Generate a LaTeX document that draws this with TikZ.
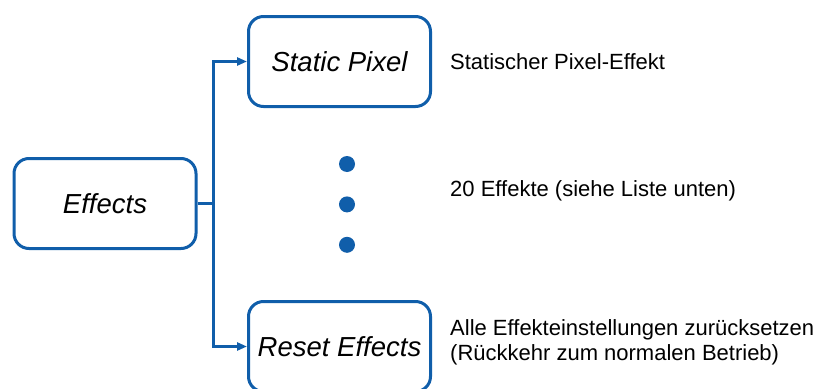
\documentclass[tikz,border=0pt]{standalone}
\usepackage{fontspec}
\setmainfont{Liberation Sans}
\usetikzlibrary{arrows.meta,positioning}
\definecolor{effblue}{RGB}{16,94,170}
\tikzset{
    block/.style = {draw=effblue, rectangle, rounded corners=15pt,
        line width=3pt,
        minimum height=90pt,
        minimum width=182pt,
        font=\fontsize{27.5}{31}\selectfont\itshape},
    note/.style = {anchor=west, align=left, inner sep=0pt,
        font=\fontsize{22}{25}\selectfont},
    dot/.style = {circle, fill=effblue, inner sep=0pt, minimum size=16pt},
    line/.style = {draw=effblue, line width=2.5pt},
}

\begin{document}
\begin{tikzpicture}[x=1pt,y=-1pt,>={Triangle[length=10pt,width=8pt]}]
		\useasboundingbox (0,0) rectangle (816,388);
		% Effects block
		\node [block] (effects) at (105,203.5) {Effects};
		% Static Pixel block
		\node [block] (static) at (339.5,61.5) {Static Pixel};
		% Reset Effects block
		\node [block] (reset) at (339.5,346.5) {Reset Effects};
		% branching point
		\coordinate [right=16pt of effects.east] (split);
		
		% dots in between
		\node [dot] (dot1) at (347,164) {};
		\node [dot, below=24pt of dot1] (dot2) {};
		\node [dot, below=24pt of dot2] (dot3) {};
		
		% descriptions
		\node [note] (statictext) at (450,62) {Statischer Pixel-Effekt};
		\node [note] (dotstext) at (450,191) {20 Effekte (siehe Liste unten)};
		\node [note] (resettext) at (450,342) {Alle Effekteinstellungen zurücksetzen\\(Rückkehr zum normalen Betrieb)};
		
		% connecting lines
		\draw [line] (effects.east) -- (split);
		\draw [line,->] (split) |- (static.west);
		\draw [line,->] (split) |- (reset.west);
	\end{tikzpicture}
\end{document}
